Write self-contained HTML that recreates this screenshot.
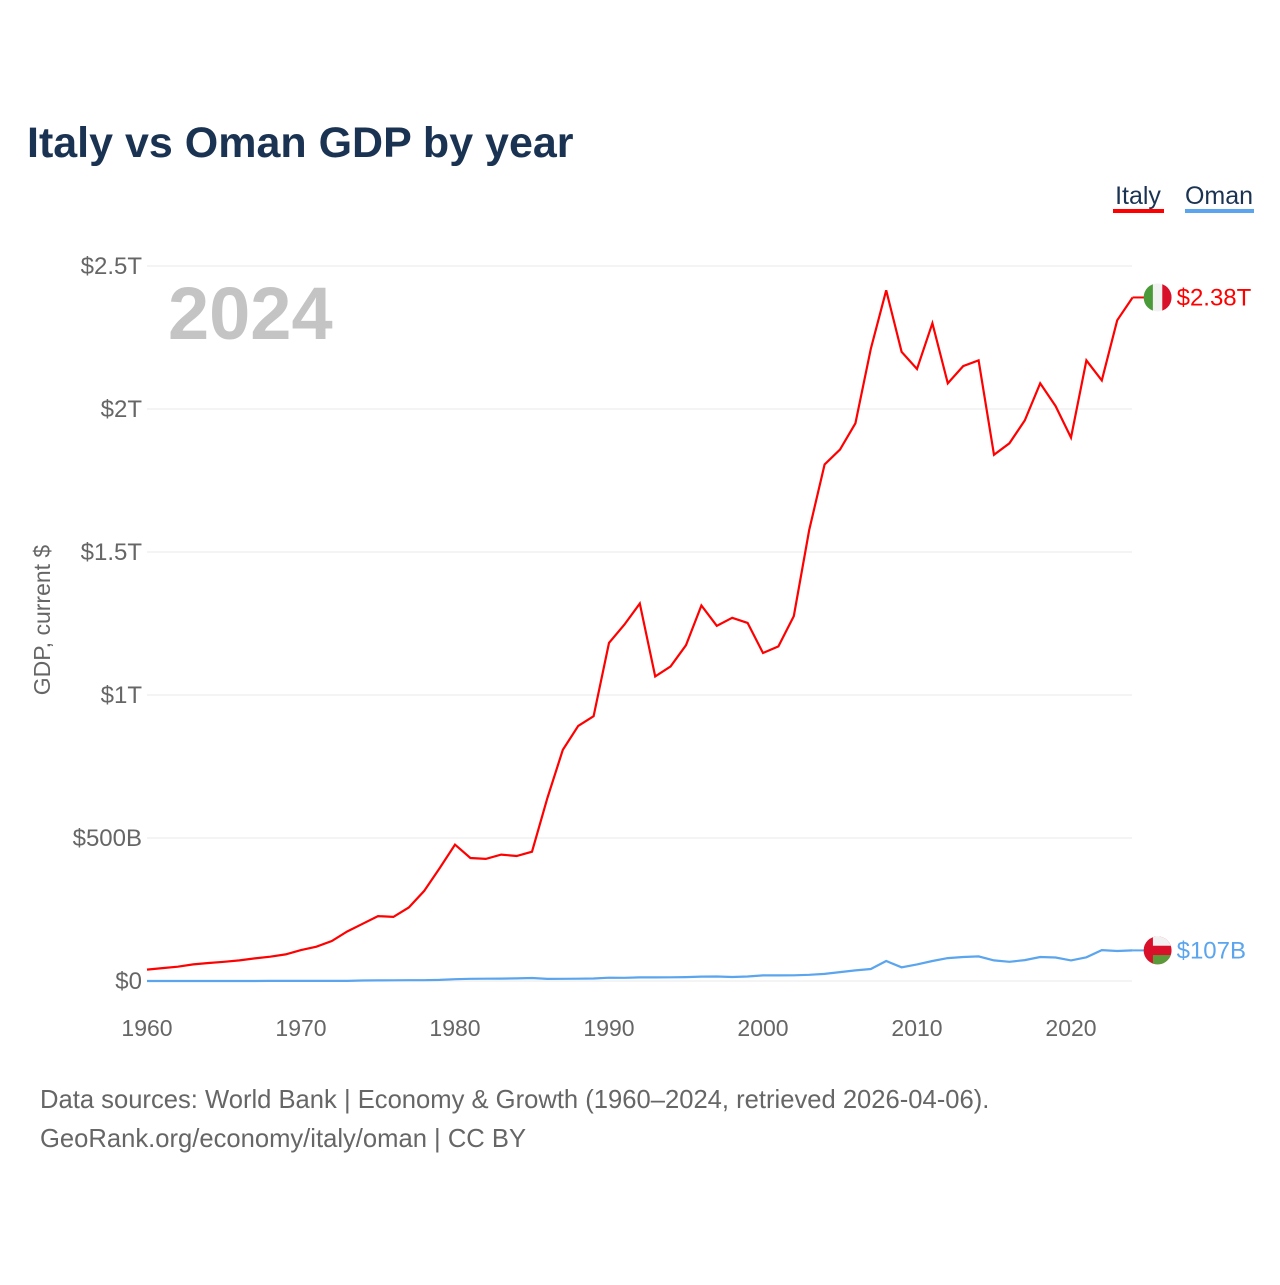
<!DOCTYPE html>
<html><head><meta charset="utf-8"><style>
body{margin:0;background:#fff;}
svg text{font-family:"Liberation Sans",sans-serif;}
</style></head><body>
<svg width="1280" height="1280" viewBox="0 0 1280 1280">
<text x="27" y="157" font-size="43" font-weight="bold" fill="#1b3352">Italy vs Oman GDP by year</text>
<g>
<text x="1138" y="204" font-size="25" fill="#1b3352" text-anchor="middle">Italy</text>
<rect x="1113" y="209" width="51" height="4" fill="#ff0000"/>
<text x="1219" y="204" font-size="25" fill="#1b3352" text-anchor="middle">Oman</text>
<rect x="1185" y="209" width="69" height="4" fill="#5aa5ee"/>
</g>
<g id="grid"></g>
<g id="yticks"></g>
<g id="xticks"></g>
<text x="168" y="339" font-size="74" font-weight="bold" fill="#c4c4c4">2024</text>
<text transform="translate(50,620) rotate(-90)" font-size="23" fill="#666" text-anchor="middle">GDP, current $</text>
<path id="italy" fill="none" stroke="#ff0000" stroke-width="2.2"/>
<path id="oman" fill="none" stroke="#5aa5ee" stroke-width="2.2"/>
<g id="ends"></g>
<text x="40" y="1108" font-size="25.6" fill="#666">Data sources: World Bank | Economy &amp; Growth (1960–2024, retrieved 2026-04-06).</text>
<text x="40" y="1147" font-size="25.6" fill="#666">GeoRank.org/economy/italy/oman | CC BY</text>
</svg>
<script>
const years=[];for(let y=1960;y<=2024;y++)years.push(y);
const italy=[40,45,50,58,63,67,72,79,85,93,108,120,140,173,200,227,224,257,315,394,477,430,427,442,437,452,640,808,892,926,1182,1246,1320,1065,1100,1174,1313,1242,1270,1252,1147,1170,1276,1577,1806,1858,1950,2210,2415,2200,2140,2300,2090,2150,2170,1840,1880,1960,2090,2010,1900,2170,2100,2310,2390];
const oman=[0.05,0.06,0.07,0.08,0.09,0.1,0.12,0.15,0.2,0.24,0.26,0.3,0.35,0.5,1.6,2.1,2.4,2.7,2.8,3.7,6.3,7.6,8,8.3,9,10.4,7.3,7.8,8.2,8.9,11.7,11.3,12.5,12.5,12.9,13.8,15.3,15.8,14.1,15.7,19.5,19.5,20,21.6,24.7,31,37.2,42.1,70,48,58,70,80,84,86,72,67,73,84,82,72,83,108,105,107];
const yTicks=[0,500,1000,1500,2000,2500];
const yTickLabels=["$0","$500B","$1T","$1.5T","$2T","$2.5T"];
const xTicks=[1960,1970,1980,1990,2000,2010,2020];
const X=y=>147+(y-1960)*15.4;
const Y=v=>981-v*0.286;
const NS="http://www.w3.org/2000/svg";
function mk(tag,attrs,parent,txt){const e=document.createElementNS(NS,tag);for(const k in attrs)e.setAttribute(k,attrs[k]);if(txt!==undefined)e.textContent=txt;parent.appendChild(e);return e;}
const grid=document.getElementById('grid'),yt=document.getElementById('yticks'),xt=document.getElementById('xticks');
yTicks.forEach((v,i)=>{
 const l=mk('line',{x1:147,x2:1132,y1:Y(v),y2:Y(v),stroke:'#e8e8e8','stroke-width':1},grid);
 
 
 const t=mk('text',{x:142,y:Y(v)+8,'font-size':24,fill:'#666','text-anchor':'end'},yt,yTickLabels[i]);
 
 
});
xTicks.forEach(v=>{
 const t=mk('text',{x:X(v),y:1036,'font-size':23,fill:'#666','text-anchor':'middle'},xt,String(v));
 
 
});
const path=a=>a.map((v,i)=>(i?'L':'M')+X(years[i]).toFixed(1)+','+Y(v).toFixed(1)).join('');
document.getElementById('italy').setAttribute('d',path(italy));
document.getElementById('oman').setAttribute('d',path(oman));
const ends=document.getElementById('ends');
const lx=X(2024);
function endMark(val,color,label,flag){
 const y=Y(val);
 const ln=mk('line',{x1:lx,x2:lx+12,y1:y,y2:y,stroke:color,'stroke-width':2},ends);
 
 
 const g=mk('g',{},ends);
 
 
 const cx=lx+25,r=14;
 const cid='c'+flag;
 const cp=mk('clipPath',{id:cid},g);mk('circle',{cx:cx,cy:y,r:r},cp);
 const gg=mk('g',{'clip-path':'url(#'+cid+')'},g);
 if(flag==='italy'){
  mk('rect',{x:cx-r,y:y-r,width:r*2/3,height:2*r,fill:'#4a9a3a'},gg);
  mk('rect',{x:cx-r/3,y:y-r,width:r*2/3,height:2*r,fill:'#f2f2f2'},gg);
  mk('rect',{x:cx+r/3,y:y-r,width:r*2/3,height:2*r,fill:'#d8102a'},gg);
 }else{
  mk('rect',{x:cx-r,y:y-r,width:2*r,height:2*r,fill:'#d8102a'},gg);
  mk('rect',{x:cx-r/3,y:y-r,width:r*4/3,height:r*2/3,fill:'#f2f2f2'},gg);
  mk('rect',{x:cx-r/3,y:y+r/3,width:r*4/3,height:r*2/3,fill:'#5a9a3a'},gg);
 }
 const t=mk('text',{x:lx+44,y:y+8,'font-size':24,fill:color},ends,label);
 
 
}
endMark(italy[italy.length-1],'#ff0000','$2.38T','italy');
endMark(oman[oman.length-1],'#5aa5ee','$107B','oman');
</script>
</body></html>
